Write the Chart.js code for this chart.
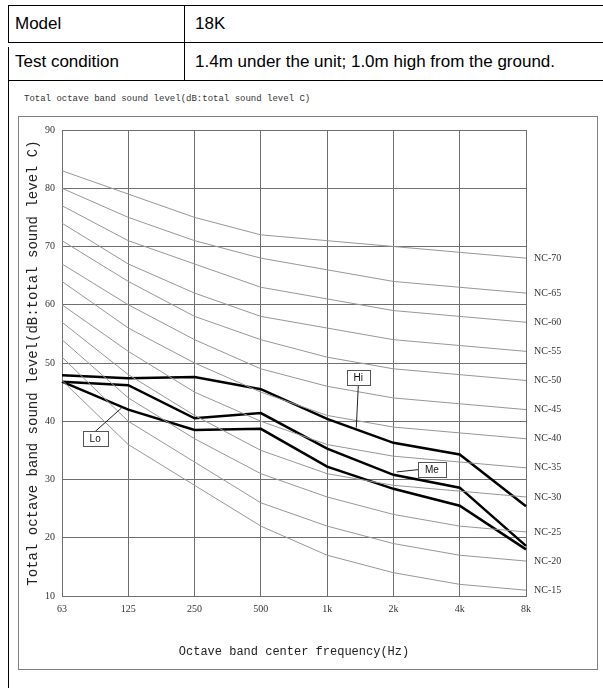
<!DOCTYPE html>
<html>
<head>
<meta charset="utf-8">
<script src="https://cdn.jsdelivr.net/npm/chart.js@4/dist/chart.umd.min.js"></script>
<style>
  body { margin: 0; background: #fff; width: 603px; height: 688px; overflow: hidden; position: relative; }
  .ln { position: absolute; background: #000; }
  .cell { position: absolute; font: 17px "Liberation Sans", Arial, sans-serif; color: #000; line-height: 20px; }
  #title { position: absolute; left: 24px; top: 94px; font: 9px "Liberation Mono", monospace; color: #333; white-space: nowrap; }
  #box { position: absolute; left: 18px; top: 116px; width: 578px; height: 552px; border: 1px solid #808080; }
  canvas { display: block; }
</style>
</head>
<body>
<!-- table lines -->
<div class="ln" style="left:8px;top:5px;width:600px;height:1px"></div>
<div class="ln" style="left:8px;top:42px;width:600px;height:1px"></div>
<div class="ln" style="left:8px;top:80px;width:600px;height:1px"></div>
<div class="ln" style="left:8px;top:5px;width:1px;height:37px"></div>
<div class="ln" style="left:8px;top:47px;width:1px;height:641px"></div>
<div class="ln" style="left:184px;top:5px;width:1px;height:75px"></div>
<div class="cell" style="left:15px;top:14px">Model</div>
<div class="cell" style="left:195px;top:14px">18K</div>
<div class="cell" style="left:15px;top:52px">Test condition</div>
<div class="cell" style="left:195px;top:52px">1.4m under the unit; 1.0m high from the ground.</div>
<div id="title">Total octave band sound level(dB:total sound level C)</div>
<div id="box"><canvas id="chart" width="578" height="552"></canvas></div>

<script>
// octave bands
const freqLabels = ['63', '125', '250', '500', '1k', '2k', '4k', '8k']

// NC reference curves
const ncLevels = [15, 20, 25, 30, 35, 40, 45, 50, 55, 60, 65, 70]
const nc15 = [47, 36, 29, 22, 17, 14, 12, 11]
const nc20 = [51, 40, 33, 26, 22, 19, 17, 16]
const nc25 = [54, 44, 37, 31, 27, 24, 22, 21]
const nc30 = [57, 48, 41, 35, 31, 29, 28, 27]
const nc35 = [60, 52, 45, 40, 36, 34, 33, 32]
const nc40 = [64, 56, 50, 45, 41, 39, 38, 37]
const nc45 = [67, 60, 54, 49, 46, 44, 43, 42]
const nc50 = [71, 64, 58, 54, 51, 49, 48, 47]
const nc55 = [74, 67, 62, 58, 56, 54, 53, 52]
const nc60 = [77, 71, 67, 63, 61, 59, 58, 57]
const nc65 = [80, 75, 71, 68, 66, 64, 63, 62]
const nc70 = [83, 79, 75, 72, 71, 70, 69, 68]
const ncCurves = [nc15, nc20, nc25, nc30, nc35, nc40, nc45, nc50, nc55, nc60, nc65, nc70]

// measured levels
const hi = [47.9, 47.4, 47.6, 45.5, 40.4, 36.3, 34.3, 25.4]
const me = [46.8, 46.2, 40.5, 41.4, 35.3, 30.8, 28.6, 18.6]
const lo = [46.8, 42.0, 38.5, 38.7, 32.2, 28.4, 25.5, 18.0]

// y axis
const yMin = 10
const yMax = 90
const yStep = 10

// callout labels: box centre and pointer tip in data units (band index, dB)
const callouts = [
  { text: 'Hi', box: [4.47, 47.5], tip: [4.44, 38.9], side: 'bottom' },
  { text: 'Me', box: [5.58, 31.7], tip: [5.05, 31.3], side: 'left' },
  { text: 'Lo', box: [0.50, 37.1], tip: [0.90, 42.3], side: 'top' }
]

const ncLabels = {
  id: 'ncLabels',
  afterDatasetsDraw(chart) {
    const { ctx, chartArea, scales: { y } } = chart
    ctx.save()
    ctx.font = '10px "Liberation Serif", serif'
    ctx.fillStyle = '#333'
    ctx.textBaseline = 'middle'
    ncLevels.forEach((lv, i) => {
      const c = ncCurves[i]
      ctx.fillText('NC-' + lv, chartArea.right + 8, y.getPixelForValue(c[c.length - 1]))
    })
    ctx.restore()
  }
}

const calloutPlugin = {
  id: 'callouts',
  afterDatasetsDraw(chart) {
    const { ctx, scales: { x, y } } = chart
    ctx.save()
    ctx.font = '10px "Liberation Sans", sans-serif'
    callouts.forEach(c => {
      const bx = x.getPixelForDecimal(c.box[0] / (freqLabels.length - 1))
      const by = y.getPixelForValue(c.box[1])
      const tx = x.getPixelForDecimal(c.tip[0] / (freqLabels.length - 1))
      const ty = y.getPixelForValue(c.tip[1])
      const w = Math.round(ctx.measureText(c.text).width + 14)
      const h = 15
      const l = Math.round(bx - w / 2) + 0.5
      const t = Math.round(by - h / 2) + 0.5
      let sx = bx, sy = t + h
      if (c.side === 'top') sy = t
      if (c.side === 'left') { sx = l; sy = by }
      ctx.strokeStyle = '#222'
      ctx.lineWidth = 1
      ctx.beginPath()
      ctx.moveTo(sx, sy)
      ctx.lineTo(tx, ty)
      ctx.stroke()
      ctx.fillStyle = '#fff'
      ctx.fillRect(l, t, w, h)
      ctx.strokeStyle = '#555'
      ctx.strokeRect(l, t, w, h)
      ctx.fillStyle = '#111'
      ctx.textAlign = 'center'
      ctx.textBaseline = 'middle'
      ctx.fillText(c.text, bx, by + 1)
    })
    ctx.restore()
  }
}

const ncSets = ncCurves.map((c, i) => ({
  label: 'NC-' + ncLevels[i],
  data: c,
  borderColor: '#979797',
  borderWidth: 1,
  pointRadius: 0,
  tension: 0
}))

const mainSets = [hi, me, lo].map((d, i) => ({
  label: ['Hi', 'Me', 'Lo'][i],
  data: d,
  borderColor: '#000',
  borderWidth: 2.5,
  pointRadius: 0,
  tension: 0
}))

const chart = document.querySelector('#chart').getContext('2d')

new Chart(chart, {
  type: 'line',
  data: {
    labels: freqLabels,
    datasets: [...ncSets, ...mainSets]
  },
  options: {
    responsive: false,
    animation: false,
    devicePixelRatio: 1,
    layout: { padding: { top: 6, right: 71, left: 0, bottom: 0 } },
    plugins: {
      legend: { display: false },
      tooltip: { enabled: false }
    },
    scales: {
      x: {
        type: 'category',
        offset: false,
        afterFit: s => { s.height = 73 },
        grid: { color: '#6f6f6f', lineWidth: 1, drawTicks: false },
        border: { color: '#6f6f6f' },
        ticks: {
          color: '#333',
          font: { family: '"Liberation Serif", serif', size: 10 },
          padding: 7,
          maxRotation: 0
        },
        title: {
          display: true,
          text: 'Octave band center frequency(Hz)',
          color: '#222',
          font: { family: '"Liberation Mono", monospace', size: 12 },
          padding: { top: 0, bottom: 10 }
        }
      },
      y: {
        min: yMin,
        max: yMax,
        afterFit: s => { s.width = 43 },
        grid: { color: '#6f6f6f', lineWidth: 1, drawTicks: false },
        border: { color: '#6f6f6f' },
        ticks: {
          stepSize: yStep,
          color: '#333',
          font: { family: '"Liberation Serif", serif', size: 10 },
          padding: 7
        },
        title: {
          display: true,
          text: 'Total octave band sound level(dB:total sound level C)',
          color: '#222',
          font: { family: '"Liberation Mono", monospace', size: 14 },
          padding: { top: 6, bottom: 0 }
        }
      }
    }
  },
  plugins: [ncLabels, calloutPlugin]
})
</script>
</body>
</html>
